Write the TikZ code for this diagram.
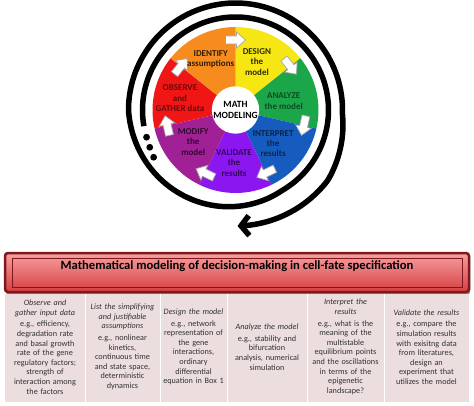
\documentclass[tikz,border=0pt]{standalone}
\usepackage{fontspec}
\setmainfont{Carlito}
\usetikzlibrary{arrows.meta}
\definecolor{wYellow}{RGB}{246,230,20}
\definecolor{wGreen}{RGB}{28,166,74}
\definecolor{wBlue}{RGB}{22,92,190}
\definecolor{wViolet}{RGB}{140,22,240}
\definecolor{wMagenta}{RGB}{162,32,150}
\definecolor{wRed}{RGB}{240,22,22}
\definecolor{wOrange}{RGB}{246,140,30}
\definecolor{bannerDark}{RGB}{125,25,28}
\definecolor{bannerTop}{RGB}{246,160,160}
\definecolor{bannerBot}{RGB}{214,62,66}
\definecolor{panelPink}{RGB}{236,222,223}
\definecolor{bodyGray}{RGB}{50,50,50}

\begin{document}
\begin{tikzpicture}[x=1pt, y=1pt,
		spiral/.style={line width=5.5pt, black},
		wedgearrow/.style={fill=white, draw=black!35, line width=0.7pt},
		wheeltext/.style={font=\fontsize{9}{10.2}\selectfont\bfseries, align=center, inner sep=0pt},
		coltext/.style={font=\fontsize{8.2}{9.6}\selectfont, text=bodyGray, text width=84pt, align=center, inner sep=0pt}]
		\useasboundingbox (0,0) rectangle (474,405);
		\def\cx{235.5}\def\cy{295}\def\R{83}
		\coordinate (c) at (\cx,\cy);
		% sectors, clockwise from the top
		\foreach \i/\col in {0/wYellow,1/wGreen,2/wBlue,3/wViolet,4/wMagenta,5/wRed,6/wOrange}
			\fill[\col] (c) -- ++({90-\i*360/7}:\R) arc ({90-\i*360/7}:{90-(\i+1)*360/7}:\R) -- cycle;
		% white arrows on the borders
		\foreach \i [evaluate=\i as \a using 90-\i*360/7] in {0,...,6}
			\draw[wedgearrow, shift={(c)}, shift={(\a:70)}, rotate=\a-90]
				(-10,-4) -- (1,-4) -- (1,-8) -- (10,0) -- (1,8) -- (1,4) -- (-10,4) -- cycle;
		\node[circle, fill=white, minimum size=44pt, inner sep=0pt, align=center,
			font=\fontsize{9.5}{11}\selectfont\bfseries] (math) at (c) {MATH\\MODELING};
		\node[wheeltext, text=wYellow!20!black] (design) at ([shift={(66:52.6)}]c) {DESIGN\\the\\model};
		\node[wheeltext, text=wGreen!45!black] (analyze) at ([shift={(10.5:49)}]c) {ANALYZE\\the model};
		\node[wheeltext, text=wBlue!40!black] (interpret) at ([shift={(-42:50.6)}]c) {INTERPRET\\the\\results};
		\node[wheeltext, text=wViolet!35!black] (validate) at ([shift={(-91.6:53)}]c) {VALIDATE\\the\\results};
		\node[wheeltext, text=wMagenta!30!black] (modify) at ([shift={(-143:53)}]c) {MODIFY\\the\\model};
		\node[wheeltext, text=wRed!45!black] (observe) at ([shift={(168:56.8)}]c) {OBSERVE\\and\\GATHER data};
		\node[wheeltext, text=wOrange!20!black] (identify) at ([shift={(116:56.6)}]c) {IDENTIFY\\assumptions};
		% spiral round the wheel
		\draw[spiral, shift={(c)}, -{Straight Barb[length=8pt, width=20pt]}]
			plot[smooth, samples=200, domain=190:-449]
			(\x:{93+14*min(1,max(0,(-60-(\x))/120))+9*min(1,max(0,(-362-(\x))/35))});
		\foreach \a/\r in {197/93,203.5/93.5,210/94.5}
			\fill ([shift={(\a:\r)}]c) circle (3.4);
		% title banner
		\fill[black!45, rounded corners=3] (6,110) rectangle (470,150);
		\draw[line width=2.5pt, draw=bannerDark, top color=bannerTop, bottom color=bannerBot, rounded corners=3]
			(5,113) rectangle (469,152);
		\draw[bannerDark, line width=0.6pt] (12,118) rectangle (462,147);
		\node[font=\fontsize{12.6}{14}\selectfont\bfseries, anchor=base] (title) at (237,136)
			{Mathematical modeling of decision-making in cell-fate specification};
		% steps
		\fill[panelPink] (5,3) rectangle (469,111.5);
		\foreach \x in {85,160,227,307,384}
			\draw[white, line width=0.8pt] (\x,3) -- (\x,111.5);
		\node[coltext] (step1) at (45,58) {{\itshape Observe and\\gather input data}\\[2pt]
			e.g., efficiency,\\degradation rate\\and basal growth\\rate of the gene\\regulatory factors;\\strength of\\interaction among\\the factors};
		\node[coltext] (step2) at (122.5,58) {{\itshape List the simplifying\\and justifiable\\assumptions}\\[2pt]
			e.g., nonlinear\\kinetics,\\continuous time\\and state space,\\deterministic\\dynamics};
		\node[coltext] (step3) at (193.5,58) {{\itshape Design the model}\\[2pt]
			e.g., network\\representation of\\the gene\\interactions,\\ordinary\\differential\\equation in Box 1};
		\node[coltext] (step4) at (267,58) {{\itshape Analyze the model}\\[2pt]
			e.g., stability and\\bifurcation\\analysis, numerical\\simulation};
		\node[coltext] (step5) at (345.5,58) {{\itshape Interpret the\\results}\\[2pt]
			e.g., what is the\\meaning of the\\multistable\\equilibrium points\\and the oscillations\\in terms of the\\epigenetic\\landscape?};
		\node[coltext] (step6) at (426.5,58) {{\itshape Validate the results}\\[2pt]
			e.g., compare the\\simulation results\\with exisitng data\\from literatures,\\design an\\experiment that\\utilizes the model};
	\end{tikzpicture}
\end{document}
